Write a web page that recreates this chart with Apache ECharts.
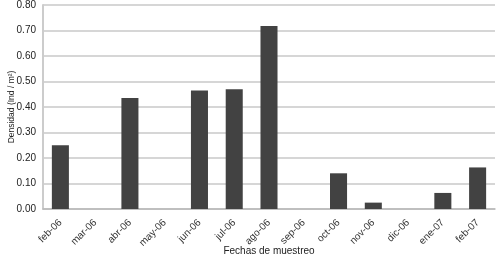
<!DOCTYPE html>
<html><head><meta charset="utf-8">
<script src="https://cdn.jsdelivr.net/npm/echarts@6/dist/echarts.min.js"></script>
<style>html,body{margin:0;padding:0;background:#fff}#c{width:500px;height:257px}</style>
</head><body><div id="c"></div>
<script>
const categories = ["feb-06","mar-06","abr-06","may-06","jun-06","jul-06","ago-06","sep-06","oct-06","nov-06","dic-06","ene-07","feb-07"];
const densidad = [0.25, 0, 0.435, 0, 0.465, 0.47, 0.718, 0, 0.14, 0.025, 0, 0.063, 0.163];
const yTicks = {min: 0, max: 0.8, interval: 0.1};

const chart = echarts.init(document.getElementById('c'), null, {renderer: 'canvas'});
chart.setOption({
  animation: false,
  grid: {left: 43, right: 5, top: 5, bottom: 48, outerBoundsMode: 'none', containLabel: false},
  xAxis: {
    type: 'category', data: categories,
    name: 'Fechas de muestreo', nameLocation: 'middle', nameGap: 37, nameMoveOverlap: false,
    nameTextStyle: {fontFamily: 'Liberation Sans', fontSize: 10, color: '#222'},
    axisLine: {lineStyle: {color: '#b8b8b8', width: 1.5}},
    axisTick: {show: false},
    axisLabel: {rotate: 45, fontFamily: 'Liberation Sans', fontSize: 10, color: '#333', margin: 12, interval: 0}
  },
  yAxis: {
    type: 'value', min: yTicks.min, max: yTicks.max, interval: yTicks.interval,
    name: 'Densidad (Ind / m²)', nameLocation: 'middle', nameGap: 27, nameMoveOverlap: false,
    nameTextStyle: {fontFamily: 'Liberation Sans', fontSize: 8.5, color: '#222'},
    axisLine: {show: true, lineStyle: {color: '#cccccc', width: 2}},
    axisTick: {show: false},
    axisLabel: {formatter: v => v.toFixed(2), fontFamily: 'Liberation Sans', fontSize: 10, color: '#222', margin: 7},
    splitLine: {lineStyle: {color: '#c8c8c8', width: 1.5}}
  },
  series: [{
    type: 'bar', data: densidad, barWidth: '49%',
    itemStyle: {color: '#424242', borderWidth: 0}
  }]
});
</script></body></html>
